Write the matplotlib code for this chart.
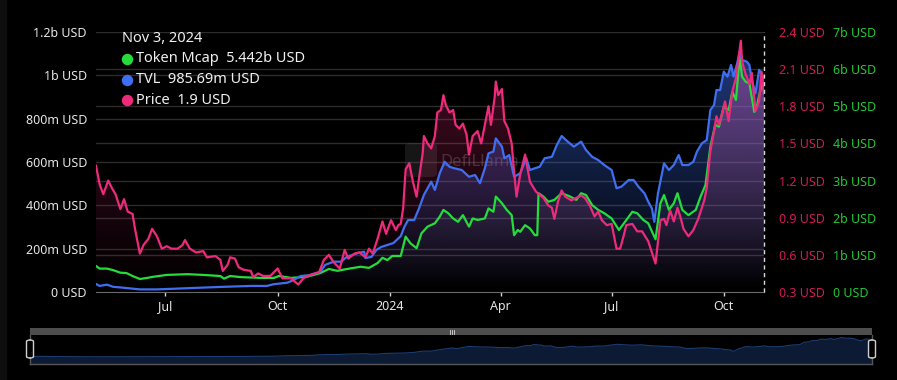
import numpy as np
import pandas as pd
import matplotlib
matplotlib.use('Agg')
import matplotlib.pyplot as plt
import matplotlib.colors as mcolors
import matplotlib.transforms as mtransforms
from matplotlib.patches import FancyBboxPatch, Rectangle
from matplotlib.lines import Line2D

plt.rcParams['font.family'] = ['Noto Sans', 'DejaVu Sans']

# days counted from 2023-05-05, last point is Nov 3, 2024
start = pd.Timestamp('2023-05-05')

price_day = [0, 3, 6, 10, 13, 16, 20, 23, 26, 30, 32, 36, 39, 43, 46, 50, 54, 58, 62, 67,
             71, 73, 77, 82, 88, 91, 98, 102, 104, 108, 110, 114, 117, 121, 127, 129, 133, 137, 143, 149,
             153, 160, 166, 170, 176, 183, 187, 191, 195, 200, 204, 207, 212, 216, 221, 224, 227, 231, 235, 238,
             242, 246, 248, 250, 252, 254, 257, 260, 263, 265, 268, 269, 272, 275, 278, 280, 283, 285, 287, 290,
             293, 295, 298, 301, 304, 306, 309, 313, 316, 319, 322, 324, 327, 328, 330, 333, 335, 338, 341, 343,
             345, 348, 352, 356, 361, 367, 371, 374, 376, 379, 382, 385, 390, 396, 398, 401, 405, 409, 412, 415,
             419, 423, 427, 430, 433, 435, 440, 444, 448, 453, 459, 463, 466, 468, 471, 474, 477, 479, 482, 486,
             490, 494, 499, 501, 504, 507, 509, 511, 514, 516, 519, 522, 525, 527, 529, 530, 533, 536, 538, 541,
             544, 546, 548]
price_usd = [1.32, 1.17, 1.09, 1.20, 1.14, 1.09, 0.97, 1.05, 0.95, 0.93, 0.81, 0.61, 0.68, 0.73, 0.81, 0.75, 0.65, 0.67, 0.65, 0.65,
             0.68, 0.72, 0.65, 0.62, 0.63, 0.58, 0.59, 0.56, 0.47, 0.52, 0.58, 0.57, 0.50, 0.48, 0.47, 0.42, 0.45, 0.43, 0.43, 0.49,
             0.41, 0.41, 0.36, 0.41, 0.44, 0.46, 0.56, 0.60, 0.54, 0.49, 0.64, 0.57, 0.61, 0.62, 0.58, 0.65, 0.61, 0.73, 0.87, 0.77,
             0.88, 0.80, 0.84, 0.85, 0.98, 1.29, 1.34, 1.19, 1.07, 1.22, 1.42, 1.56, 1.50, 1.46, 1.56, 1.75, 1.77, 1.89, 1.81, 1.75,
             1.77, 1.65, 1.62, 1.66, 1.57, 1.41, 1.56, 1.60, 1.50, 1.65, 1.80, 1.65, 1.87, 2.00, 1.89, 1.94, 1.68, 1.62, 1.50, 1.27,
             1.07, 1.25, 1.41, 1.19, 1.11, 1.06, 1.00, 0.98, 0.89, 1.03, 1.12, 1.07, 1.04, 1.07, 1.08, 1.06, 1.00, 0.91, 0.95, 0.88,
             0.84, 0.85, 0.65, 0.65, 0.76, 0.84, 0.85, 0.79, 0.79, 0.71, 0.53, 0.88, 0.89, 0.84, 0.96, 0.87, 0.98, 0.92, 0.81, 0.75,
             0.80, 0.89, 1.04, 1.14, 1.44, 1.60, 1.72, 1.65, 1.76, 1.84, 1.68, 1.92, 2.03, 2.18, 2.33, 2.16, 2.06, 1.98, 2.07, 1.76,
             1.84, 2.08, 1.90]

tvl_day = [0, 3, 9, 14, 22, 36, 50, 77, 105, 127, 140, 146, 157, 162, 168, 176, 184, 188, 195, 201,
           206, 215, 220, 221, 226, 230, 234, 239, 244, 250, 253, 256, 261, 265, 269, 275, 278, 282, 286, 290,
           294, 300, 306, 311, 315, 319, 322, 326, 328, 333, 335, 339, 343, 348, 353, 356, 360, 364, 368, 374,
           378, 382, 387, 392, 398, 402, 407, 412, 417, 423, 427, 431, 437, 441, 445, 450, 453, 456, 458, 461,
           466, 470, 474, 478, 481, 486, 490, 493, 497, 501, 504, 507, 509, 512, 515, 518, 521, 523, 526, 528,
           530, 534, 536, 538, 541, 544, 546, 548]
tvl_musd = [37, 28, 34, 24, 20, 12, 12, 18, 24, 28, 28, 36, 43, 55, 74, 78, 94, 125, 140, 140,
            163, 180, 186, 157, 162, 194, 208, 217, 226, 258, 301, 332, 332, 386, 448, 509, 471, 548, 601, 578,
            571, 563, 532, 540, 502, 571, 640, 648, 709, 671, 617, 632, 532, 548, 617, 563, 571, 578, 617, 624,
            678, 720, 694, 671, 694, 655, 624, 609, 586, 563, 479, 486, 517, 517, 486, 455, 417, 386, 324, 455,
            594, 563, 586, 632, 586, 586, 601, 648, 686, 701, 840, 863, 932, 932, 1017, 994, 1048, 994, 1055, 1109,
            1071, 1063, 1048, 978, 917, 1025, 1009, 985.69]

mcap_day = [0, 3, 9, 14, 20, 25, 30, 36, 42, 47, 58, 75, 88, 102, 105, 110, 119, 135, 146, 150,
            160, 173, 184, 191, 198, 206, 217, 224, 231, 235, 239, 243, 250, 254, 258, 263, 267, 272, 278, 282,
            285, 289, 293, 297, 301, 306, 309, 313, 319, 322, 326, 328, 333, 337, 341, 343, 346, 348, 352, 356,
            360, 362, 363, 367, 371, 376, 382, 389, 394, 398, 402, 407, 412, 417, 423, 429, 434, 440, 444, 449,
            453, 459, 463, 466, 470, 474, 477, 481, 486, 492, 496, 500, 504, 508, 511, 515, 519, 522, 525, 528,
            530, 533, 536, 540, 542, 546, 548]
mcap_busd = [0.70, 0.63, 0.63, 0.59, 0.52, 0.51, 0.43, 0.35, 0.38, 0.41, 0.46, 0.48, 0.46, 0.43, 0.36, 0.43, 0.40, 0.38, 0.38, 0.43,
             0.38, 0.41, 0.51, 0.62, 0.57, 0.62, 0.68, 0.65, 0.78, 0.92, 0.86, 0.97, 0.97, 1.49, 1.31, 1.18, 1.58, 1.76, 1.85, 2.03,
             2.21, 2.12, 1.98, 1.89, 2.07, 1.76, 1.98, 1.94, 1.98, 2.25, 2.16, 2.57, 2.39, 2.21, 2.07, 1.53, 1.67, 1.62, 1.80, 1.71,
             1.53, 1.53, 2.66, 2.57, 2.43, 2.48, 2.66, 2.57, 2.48, 2.66, 2.61, 2.34, 2.21, 2.12, 1.98, 1.67, 1.89, 2.16, 2.12, 1.94,
             1.85, 1.42, 2.39, 2.61, 2.21, 2.39, 2.66, 2.21, 2.07, 2.21, 2.57, 2.88, 3.91, 4.50, 4.45, 4.99, 4.90, 5.39, 5.17, 6.33,
             5.80, 5.66, 5.62, 4.85, 4.99, 5.57, 5.442]

xtick_dates = ['2023-07-01', '2023-10-01', '2024-01-01', '2024-04-01', '2024-07-01', '2024-10-01']
xtick_labels = ['Jul', 'Oct', '2024', 'Apr', 'Jul', 'Oct']
tvl_ticks = [0, 200, 400, 600, 800, 1000, 1200]
tvl_labels = ['0 USD', '200m USD', '400m USD', '600m USD', '800m USD', '1b USD', '1.2b USD']
price_ticks = [0.3, 0.6, 0.9, 1.2, 1.5, 1.8, 2.1, 2.4]
mcap_ticks = [0, 1, 2, 3, 4, 5, 6, 7]

c_mcap = '#25dc3c'
c_tvl = '#3f6ff0'
c_price = '#ee2a7b'


def to_dates(days):
    return start + pd.to_timedelta(days, unit='D')


price_dates = to_dates(price_day)
tvl_dates = to_dates(tvl_day)
mcap_dates = to_dates(mcap_day)
end = to_dates([548])[0]

W, H = 897, 380
fig = plt.figure(figsize=(W / 100, H / 100), dpi=100, facecolor='black')


def fx(px):
    return px / W


def fy(py):
    return 1 - py / H


# left strip of the panel
fig.add_artist(Rectangle((0, 0), fx(6), 1, transform=fig.transFigure, color='#0e0e0e', zorder=-5))

ax = fig.add_axes([fx(96), fy(292), fx(764 - 96), (292 - 32) / H])
ax.set_facecolor('none')
ax_m = ax.twinx()
ax_p = ax.twinx()

ax.set_ylim(0, 1200)
ax_m.set_ylim(0, 7)
ax_p.set_ylim(0.3, 2.4)


def gradient_fill(dates, vals, base, scale_ax, color, alpha_top, z):
    poly = scale_ax.fill_between(dates, vals, base, facecolor='none', edgecolor='none')
    img = np.zeros((256, 1, 4))
    img[..., :3] = mcolors.to_rgb(color)
    img[..., 3] = np.linspace(0, alpha_top, 256)[:, None]
    im = ax.imshow(img, aspect='auto', extent=[0, 1, 0, 1], origin='lower',
                   transform=ax.transAxes, interpolation='bilinear', zorder=z)
    im.set_clip_path(poly.get_paths()[0], transform=scale_ax.transData)


# grid lines for both scales
gtrans_p = mtransforms.blended_transform_factory(ax.transAxes, ax_p.transData)
for v in tvl_ticks[1:]:
    ax.axhline(v, color='#2c2c2c', lw=1, zorder=0.5)
for v in price_ticks[1:-1]:
    ax.plot([0, 1], [v, v], transform=gtrans_p, color='#2c2c2c', lw=1, zorder=0.5)

# watermark
ax.add_patch(FancyBboxPatch((fx(405), fy(177)), fx(32), (177 - 143) / H,
                            boxstyle='round,pad=0,rounding_size=0.008', transform=fig.transFigure,
                            facecolor='#5a5a5a', edgecolor='none', alpha=0.25, zorder=0.6))
ax.text(fx(440), fy(162), 'DefiLlama', transform=fig.transFigure, fontsize=12, fontweight='bold',
        color='#8c8c8c', alpha=0.35, va='center', ha='left', zorder=0.6)

gradient_fill(mcap_dates, mcap_busd, 0, ax_m, '#aab0e6', 0.3, 1)
gradient_fill(tvl_dates, tvl_musd, 0, ax, c_tvl, 0.55, 1.1)
gradient_fill(price_dates, price_usd, 0.3, ax_p, c_price, 0.32, 1.2)

ax.plot(mcap_dates, mcap_busd, color=c_mcap, lw=1.6, transform=ax_m.transData, zorder=3)
ax.plot(tvl_dates, tvl_musd, color=c_tvl, lw=1.6, zorder=4)
ax.plot(price_dates, price_usd, color=c_price, lw=1.6, transform=ax_p.transData, zorder=5)

ax.axvline(end, color='#d8d8d8', lw=1, ls=(0, (3, 2.5)), zorder=6, clip_on=False)

for a in (ax, ax_m, ax_p):
    a.set_xlim(start, end)
    for s in a.spines.values():
        s.set_visible(False)
ax.set_ylim(0, 1200)
ax_m.set_ylim(0, 7)
ax_p.set_ylim(0.3, 2.4)
ax.spines['bottom'].set_visible(True)
ax.spines['bottom'].set_color('#6a6a6a')

ax.set_xticks(pd.to_datetime(xtick_dates))
ax.set_xticklabels(xtick_labels)
ax.get_xticklabels()[2].set_fontweight('bold')
ax.tick_params(axis='x', colors='#d0d0d0', labelcolor='#e6e6e6', labelsize=9, length=3, width=1, pad=3)

ax.set_yticks(tvl_ticks)
ax.set_yticklabels(tvl_labels)
ax.tick_params(axis='y', length=0, pad=6.5, labelsize=9, labelcolor='#e6e6e6')

ax_p.set_yticks(price_ticks)
ax_p.set_yticklabels([f'{v:.1f} USD' for v in price_ticks])
ax_p.tick_params(axis='y', length=0, pad=10.8, labelsize=9, labelcolor='#d4185c')

ax_m.set_yticks(mcap_ticks)
ax_m.set_yticklabels([f'{v}b USD' if v else '0 USD' for v in mcap_ticks])
ax_m.tick_params(axis='y', length=0, pad=49.7, labelsize=9, labelcolor='#22c735')

# tooltip
fig.text(fx(122), fy(38), 'Nov 3, 2024', fontsize=10.5, color='#f0f0f0', va='center')
rows = [('Token Mcap  5.442b USD', c_mcap, 59),
        ('TVL  985.69m USD', c_tvl, 79.5),
        ('Price  1.9 USD', c_price, 100)]
for label, col, py in rows:
    fig.add_artist(Line2D([fx(127)], [fy(py)], marker='o', ms=7.2, color=col, lw=0,
                          transform=fig.transFigure))
    fig.text(fx(136), fy(py), label, fontsize=10.5, color='#f0f0f0', va='center')

# data zoom slider
ax_s = fig.add_axes([fx(30), fy(364), fx(872 - 30), (364 - 335) / H])
ax_s.set_facecolor('black')
ax_s.fill_between(tvl_dates, tvl_musd, -400, color='#0c1a33', lw=0)
ax_s.plot(tvl_dates, tvl_musd, color='#1d3c72', lw=0.8)
ax_s.set_xlim(start, end)
ax_s.set_ylim(-400, 1250)
ax_s.set_xticks([])
ax_s.set_yticks([])
for k, s in ax_s.spines.items():
    s.set_color('#555555')
    s.set_linewidth(1)
ax_s.spines['top'].set_visible(False)

fig.add_artist(Rectangle((fx(30), fy(335)), fx(872 - 30), 7 / H, transform=fig.transFigure,
                         color='#4e4e4e', lw=0))
for gx in (449.5, 451.5, 453.5):
    fig.add_artist(Line2D([fx(gx), fx(gx)], [fy(330), fy(334)], color='#dddddd', lw=0.6,
                          transform=fig.transFigure))
for hx in (30, 872):
    fig.add_artist(FancyBboxPatch((fx(hx - 3.5), fy(358)), fx(7), 18 / H,
                                  boxstyle='round,pad=0,rounding_size=0.004', transform=fig.transFigure,
                                  facecolor='black', edgecolor='#cfcfcf', lw=1))

fig.savefig('out.png', dpi=100, facecolor='black')
